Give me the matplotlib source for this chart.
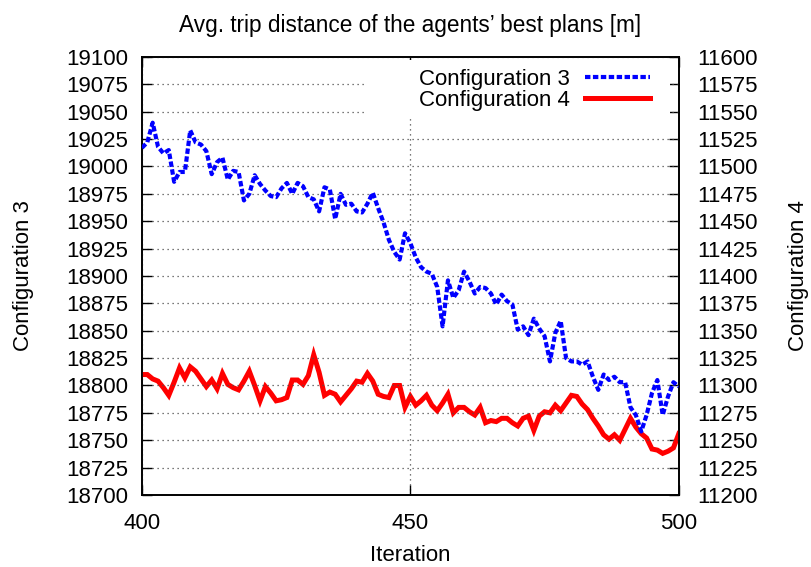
import matplotlib
matplotlib.use("Agg")
import matplotlib.pyplot as plt
from matplotlib.patches import Rectangle
import numpy as np

iterations = list(range(400, 501))

config3 = [19017, 19022, 19040, 19018, 19012, 19015, 18986, 18995, 18995, 19033,
           19022, 19020, 19014, 18993, 19004, 19008, 18988, 18996, 18995, 18969,
           18975, 18992, 18984, 18978, 18973, 18972, 18980, 18985, 18975, 18985,
           18982, 18972, 18970, 18959, 18981, 18979, 18952, 18975, 18965, 18966,
           18959, 18958, 18966, 18976, 18962, 18949, 18933, 18922, 18915, 18939,
           18930, 18917, 18908, 18904, 18902, 18890, 18854, 18896, 18880, 18887,
           18904, 18895, 18884, 18890, 18889, 18884, 18874, 18883, 18877, 18874,
           18851, 18854, 18846, 18861, 18852, 18845, 18822, 18848, 18859, 18825,
           18822, 18822, 18819, 18822, 18808, 18796, 18810, 18805, 18808, 18803,
           18803, 18780, 18773, 18758, 18773, 18793, 18805, 18773, 18790, 18803,
           18799]

config4 = [11310, 11310, 11306, 11304, 11298, 11291, 11303, 11316, 11307, 11317,
           11313, 11306, 11299, 11305, 11297, 11311, 11301, 11298, 11296, 11304,
           11313, 11300, 11286, 11299, 11293, 11286, 11287, 11289, 11305, 11305,
           11301, 11309, 11328, 11312, 11291, 11294, 11292, 11285, 11291, 11297,
           11304, 11303, 11311, 11304, 11292, 11290, 11289, 11300, 11300, 11280,
           11290, 11282, 11286, 11291, 11282, 11277, 11284, 11292, 11275, 11280,
           11280, 11276, 11273, 11280, 11266, 11268, 11267, 11270, 11270, 11266,
           11263, 11270, 11272, 11259, 11272, 11276, 11275, 11282, 11277, 11284,
           11291, 11290, 11283, 11278, 11270, 11263, 11255, 11251, 11255, 11250,
           11260, 11270, 11262, 11256, 11252, 11242, 11241, 11238, 11240, 11243,
           11256]

left_ticks = list(range(18700, 19101, 25))
right_ticks = list(range(11200, 11601, 25))
x_ticks = [400, 450, 500]

plt.rcParams['font.family'] = ['Liberation Sans', 'DejaVu Sans']
FS = 16

fig = plt.figure(figsize=(8.11, 5.67), dpi=100)
ax = fig.add_axes([0.175, 0.127, 0.662, 0.7725])
ax2 = ax.twinx()

l3, = ax.plot(iterations, config3, color='#0000ff', lw=3.0,
              linestyle=(0, (1.3, 0.6)), label='Configuration 3', zorder=3)
l4, = ax2.plot(iterations, config4, color='#ff0000', lw=3.6,
               solid_joinstyle='miter', label='Configuration 4', zorder=3)

ax.set_xlim(400, 500)
ax.set_ylim(18700, 19100)
ax2.set_ylim(11200, 11600)
ax.set_xticks(x_ticks)
ax.set_yticks(left_ticks)
ax2.set_yticks(right_ticks)

ax.grid(True, color='0.3', linestyle=(0, (1, 3)), lw=0.9)
ax.set_axisbelow(True)

# white key area hiding the grid, as in the original
ax.add_patch(Rectangle((0.415, 0.862), 0.568, 0.131, transform=ax.transAxes,
                       facecolor='white', edgecolor='none', zorder=2))

ax.tick_params(axis='both', direction='in', length=7, width=1.0, labelsize=FS, pad=10)
ax.tick_params(axis='x', top=True, pad=13)
ax.tick_params(axis='y', right=False)
ax2.tick_params(axis='y', direction='in', length=7, width=1.0, labelsize=FS, pad=13)

for a in (ax, ax2):
    for s in a.spines.values():
        s.set_linewidth(1.2)

ax.set_xlabel('Iteration', fontsize=FS, labelpad=8)
ax.set_ylabel('Configuration 3', fontsize=FS, labelpad=23)
ax2.set_ylabel('Configuration 4', fontsize=FS, labelpad=22)
ax.set_title("Avg. trip distance of the agents\u2019 best plans [m]", fontsize=16.3, pad=18)

ax.set_zorder(ax2.get_zorder() + 1)
ax.patch.set_visible(False)
leg = ax.legend(handles=[l3, l4], loc='upper right', bbox_to_anchor=(0.956, 0.986),
                fontsize=FS, markerfirst=False, handlelength=2.9, frameon=False,
                borderaxespad=0.0, labelspacing=0.0,
                handletextpad=0.7, borderpad=0.25)

fig.savefig('out.png', dpi=100)
